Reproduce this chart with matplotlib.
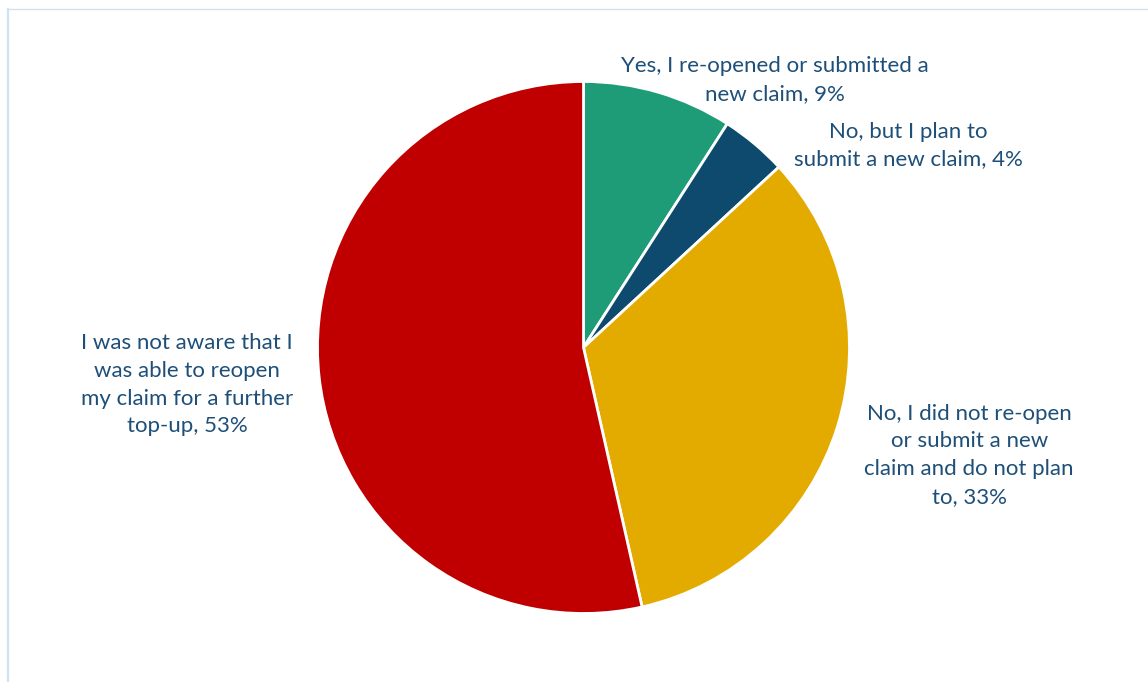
import matplotlib.pyplot as plt
from matplotlib.lines import Line2D

labels = [
    "Yes, I re-opened or submitted a\nnew claim, 9%",
    "No, but I plan to\nsubmit a new claim, 4%",
    "No, I did not re-open\nor submit a new\nclaim and do not plan\nto, 33%",
    "I was not aware that I\nwas able to reopen\nmy claim for a further\ntop-up, 53%",
]
shares = [9, 4, 33, 53]
colors = ["#1E9C78", "#0E4A6E", "#E3AB00", "#C00000"]

# label anchor spots, in pie radii from the centre
label_xy = [(0.72, 1.005), (1.22, 0.76), (1.45, -0.405), (-1.49, -0.14)]

W, H = 1148, 682
cx, cy, r = 583.5, 347.5, 266.0

fig = plt.figure(figsize=(W / 100, H / 100), dpi=100)
ax = fig.add_axes([0, 0, 1, 1])

ax.pie(shares, colors=colors, startangle=90, counterclock=False, radius=1.0,
       wedgeprops=dict(edgecolor="white", linewidth=2.0))

# pie() resets the limits, so fix them afterwards
ax.set_xlim(-cx / r, (W - cx) / r)
ax.set_ylim(-(H - cy) / r, cy / r)
ax.set_aspect("equal")
ax.axis("off")

for txt, (x, y) in zip(labels, label_xy):
    ax.text(x, y, txt, ha="center", va="center", fontsize=16,
            family="Lato", color="#1D4F78", linespacing=1.48)

# thin frame on the left and top
fig.add_artist(Line2D([8 / W, 8 / W], [0, 1 - 9 / H], transform=fig.transFigure,
                      color="#CFE2F3", lw=1.6))
fig.add_artist(Line2D([8 / W, 1], [1 - 9 / H, 1 - 9 / H], transform=fig.transFigure,
                      color="#CFE2F3", lw=1.0))

fig.savefig("out.png", dpi=100, facecolor="white")
